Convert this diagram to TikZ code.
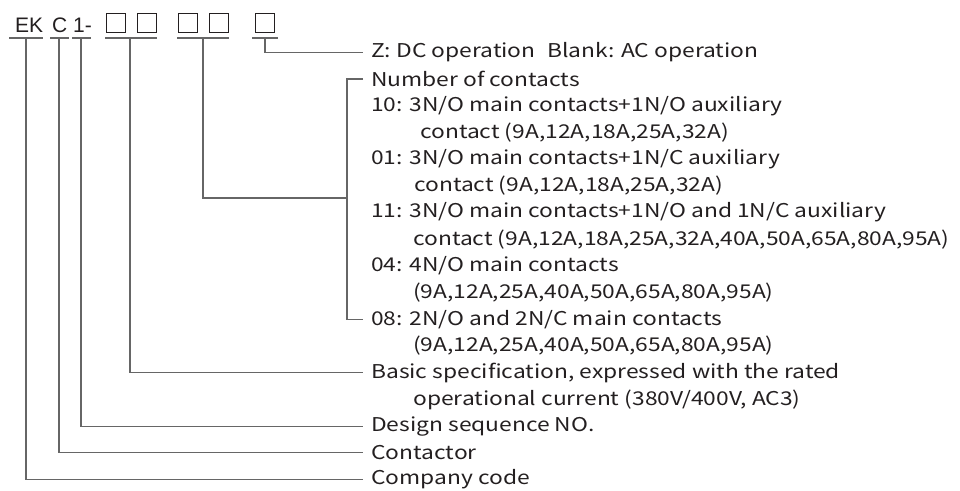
\documentclass[tikz,border=0pt]{standalone}
\usepackage{fontspec}
\newfontfamily\codefont{Liberation Sans}
\newfontfamily\notefont[FakeStretch=1.2]{Noto Sans CJK SC}
\definecolor{inkgray}{HTML}{231F20}
\definecolor{leadgray}{HTML}{666666}
\tikzset{
  code/.style={font=\codefont\fontsize{21}{21}\selectfont, text=inkgray, inner sep=0pt, anchor=base west},
  digit/.style={draw=inkgray, line width=1.2pt, minimum size=19pt, inner sep=0pt},
  note/.style={font=\notefont\fontsize{19}{19}\selectfont, text=inkgray, inner xsep=8pt, inner ysep=0pt, anchor=west},
  more/.style={font=\notefont\fontsize{19}{19}\selectfont, text=inkgray, inner sep=0pt, anchor=west},
  lead/.style={draw=leadgray, line width=1.2pt},
}
\begin{document}
\begin{tikzpicture}[x=1pt,y=-1pt]
  \useasboundingbox (0,0) rectangle (960,490);
  % Model code
  \node[code] (ek) at (15,32) {EK};
  \node[code] (c) at (52,32) {C};
  \node[code] (one) at (73,32) {1-};
  \node[digit] (d1) at (116,23) {};
  \node[digit] (d2) at (147,23) {};
  \node[digit] (d3) at (188,23) {};
  \node[digit] (d4) at (219,23) {};
  \node[digit] (d5) at (265,23) {};
  % Underlines
  \draw[lead] (9,38) -- (43,38);
  \draw[lead] (50,38) -- (69,38);
  \draw[lead] (72,38) -- (91,38);
  \draw[lead] (105,38) -- (157,38);
  \draw[lead] (177,38) -- (229,38);
  \draw[lead] (252,38) -- (278,38);
  \coordinate (ekbar) at (26,38);
  \coordinate (cbar) at (59,38);
  \coordinate (onebar) at (81,38);
  \coordinate (specbar) at (130,38);
  \coordinate (numbar) at (203,38);
  \coordinate (opbar) at (265,38);
  % Notes
  \node[note] (op) at (363,52.3) {Z: DC operation\hspace{0.6em}Blank: AC operation};
  \node[note] (num) at (363,79) {Number of contacts};
  \node[note] (n10) at (363,105.7) {10: 3N/O main contacts+1N/O auxiliary};
  \node[more] (n10b) at (420,132.4) {contact (9A,12A,18A,25A,32A)};
  \node[note] (n01) at (363,159.1) {01: 3N/O main contacts+1N/C auxiliary};
  \node[more] (n01b) at (414,185.8) {contact (9A,12A,18A,25A,32A)};
  \node[note] (n11) at (363,212.5) {11: 3N/O main contacts+1N/O and 1N/C auxiliary};
  \node[more] (n11b) at (413,239.2) {contact (9A,12A,18A,25A,32A,40A,50A,65A,80A,95A)};
  \node[note] (n04) at (363,265.9) {04: 4N/O main contacts};
  \node[more] (n04b) at (413,292.6) {(9A,12A,25A,40A,50A,65A,80A,95A)};
  \node[note] (n08) at (363,319.3) {08: 2N/O and 2N/C main contacts};
  \node[more] (n08b) at (413,346) {(9A,12A,25A,40A,50A,65A,80A,95A)};
  \node[note] (spec) at (363,372.7) {Basic specification, expressed with the rated};
  \node[more] (specb) at (413,399.4) {operational current (380V/400V, AC3)};
  \node[note] (seq) at (363,426.1) {Design sequence NO.};
  \node[note] (type) at (363,452.8) {Contactor};
  \node[note] (firm) at (363,479.5) {Company code};
  % Leaders
  \coordinate (brk) at (347,198);
  \draw[lead] (opbar) |- (op.west);
  \draw[lead] (num.west) -| (brk) |- (n08.west);
  \draw[lead] (numbar) |- (brk);
  \draw[lead] (specbar) |- (spec.west);
  \draw[lead] (onebar) |- (seq.west);
  \draw[lead] (cbar) |- (type.west);
  \draw[lead] (ekbar) |- (firm.west);
\end{tikzpicture}
\end{document}
